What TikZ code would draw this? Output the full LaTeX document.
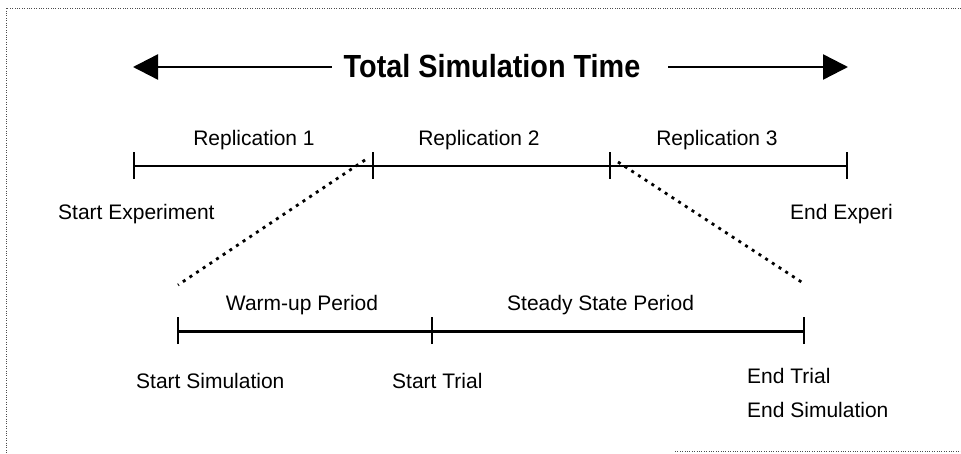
\documentclass[tikz,border=0pt]{standalone}
\usepackage{fontspec}
\setmainfont{Liberation Sans}
\usetikzlibrary{arrows.meta}
\begin{document}
\begin{tikzpicture}[x=1pt,y=-1pt,
  frame/.style={line width=0.8pt,dash pattern=on 0.8pt off 1.6pt,black!70},
  timeline/.style={line width=2.2pt,black},
  thickline/.style={line width=3pt,black},
  tickmark/.style={line width=2.6pt,black},
  zoomline/.style={line width=2.8pt,dash pattern=on 3pt off 5pt,black},
  label/.style={font=\fontsize{21}{25}\selectfont,inner sep=0pt},
  title/.style={font=\bfseries\fontsize{32}{36}\selectfont,inner sep=0pt},
  bigarrow/.style={line width=2.4pt,-{Triangle[length=25pt,width=25pt]}}]
\useasboundingbox (0,0) rectangle (961,454);
% frame
\draw[frame] (961,8) -- (6,8) -- (6,454);
\draw[frame] (675,451) -- (961,451);

% title with arrows
\node[title] (title) at (492,66) {\scalebox{0.9}[1]{Total Simulation Time}};
\coordinate (tl) at (133,67);
\coordinate (tr) at (848,67);
\draw[bigarrow] ([xshift=-12pt]title.west |- tl) -- (tl);
\draw[bigarrow] ([xshift=28pt]title.east |- tr) -- (tr);

% experiment timeline
\coordinate (e0) at (134,166);
\coordinate (e1) at (373,166);
\coordinate (e2) at (610,166);
\coordinate (e3) at (847,166);
\draw[timeline] (e0) -- (e3);
\foreach \p in {e0,e1,e2,e3}
  \draw[tickmark] ([yshift=-13pt]\p) -- ([yshift=14pt]\p);
\node[label,anchor=base] (r1) at (254,146) {Replication 1};
\node[label,anchor=base] (r2) at (479,146) {Replication 2};
\node[label,anchor=base] (r3) at (717,146) {Replication 3};
\node[label,anchor=base west] (sx) at (58,220) {Start Experiment};
\node[label,anchor=base west] (ex) at (790,220) {End Experi};

% replication timeline
\coordinate (s0) at (178,331);
\coordinate (s1) at (432,331);
\coordinate (s2) at (804,331);
\draw[thickline] (s0) -- (s2);
\foreach \p in {s0,s1,s2}
  \draw[tickmark] ([yshift=-13pt]\p) -- ([yshift=14pt]\p);
\node[label,anchor=base] (wu) at (302,311) {Warm-up Period};
\node[label,anchor=base west] (ss) at (507,311) {Steady State Period};
\node[label,anchor=base west] (ssim) at (136,388) {Start Simulation};
\node[label,anchor=base west] (strial) at (392,388) {Start Trial};
\node[label,anchor=base west] (etrial) at (747,383) {End Trial};
\node[label,anchor=base west] (esim) at (747,417) {End Simulation};

% zoom lines from replication 2 to the detailed timeline
\coordinate (z0) at (178,285);
\coordinate (z1) at (803,283);
\draw[zoomline] ([shift={(-8pt,6pt)}]e1) -- (z0);
\draw[zoomline] ([shift={(8pt,4pt)}]e2) -- (z1);
\end{tikzpicture}
\end{document}
